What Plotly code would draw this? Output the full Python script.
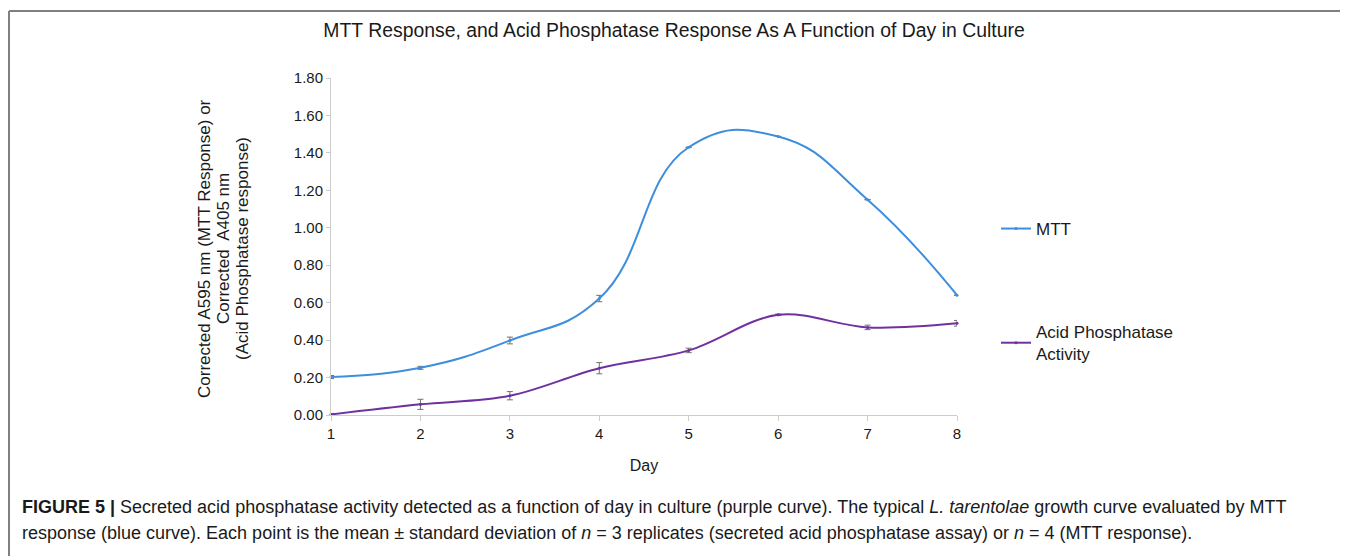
import plotly.graph_objects as go

days = [1, 2, 3, 4, 5, 6, 7, 8]
mtt = [0.203, 0.252, 0.398, 0.622, 1.430, 1.488, 1.150, 0.640]
mtt_err = [0.008, 0.008, 0.018, 0.017, 0.0, 0.0, 0.0, 0.0]
acp = [0.003, 0.057, 0.103, 0.250, 0.345, 0.535, 0.468, 0.490]
acp_err = [0.005, 0.027, 0.022, 0.030, 0.012, 0.004, 0.012, 0.015]
y_ticks = [0, 0.2, 0.4, 0.6, 0.8, 1.0, 1.2, 1.4, 1.6, 1.8]

FONT = "Liberation Sans, Arial, sans-serif"
BLUE = "#3E8EDE"
PURPLE = "#7030A0"
ERR = "#707070"
TXT = "#1a1a1a"

W, H = 1348, 556
L, T = 323, 70          # plot area left/top (figure px; page adds 8px body margin)
PR, PB = 949, 407       # plot area right/bottom
PW, PH = PR - L, PB - T


def px(fx):
    return (fx - L) / PW


def py(fy):
    return (PB - fy) / PH


fig = go.Figure()
fig.add_trace(go.Scatter(
    x=days, y=mtt, name="MTT", mode="lines+markers",
    line=dict(color=BLUE, width=2, shape="spline", smoothing=1.3),
    marker=dict(color=BLUE, size=3),
    error_y=dict(type="data", array=mtt_err, color=ERR, thickness=1, width=3),
    cliponaxis=False, legendgroup="a",
))
fig.add_trace(go.Scatter(
    x=days, y=acp, name="Acid Phosphatase<br>Activity", mode="lines+markers",
    line=dict(color=PURPLE, width=2, shape="spline", smoothing=1.0),
    marker=dict(color=PURPLE, size=3),
    error_y=dict(type="data", array=acp_err, color=ERR, thickness=1, width=3),
    cliponaxis=False, legendgroup="b",
))

fig.update_layout(
    width=W, height=H,
    margin=dict(l=L, r=W - PR, t=T, b=H - PB),
    paper_bgcolor="white", plot_bgcolor="white",
    font=dict(family=FONT, size=15, color=TXT),
    title=dict(text="MTT Response, and Acid Phosphatase Response As A Function of Day in Culture",
               x=666 / W, xanchor="center", y=1 - 22 / H, yanchor="middle",
               font=dict(family=FONT, size=19.4, color=TXT)),
    showlegend=True,
    legend=dict(x=px(988), xanchor="left", y=py(203), yanchor="top",
                font=dict(family=FONT, size=17, color=TXT),
                tracegroupgap=78, itemwidth=30, bgcolor="rgba(0,0,0,0)"),
)
fig.update_xaxes(
    range=[1, 8], tickvals=days, ticktext=[str(d) for d in days],
    showline=True, linecolor="#CCCCCC", linewidth=1,
    ticks="outside", ticklen=5, tickcolor="#CCCCCC",
    showgrid=False, zeroline=False,
    tickfont=dict(family=FONT, size=15, color=TXT),
    title=dict(text="Day", font=dict(family=FONT, size=16, color=TXT), standoff=18),
)
fig.update_yaxes(
    range=[0, 1.8], tickvals=y_ticks, ticktext=[f"{v:.2f}" for v in y_ticks],
    showline=True, linecolor="#CCCCCC", linewidth=1,
    ticks="outside", ticklen=4, tickcolor="#CCCCCC",
    showgrid=False, zeroline=False,
    tickfont=dict(family=FONT, size=15, color=TXT),
)

# y-axis title, three rotated lines
ytitle = ["Corrected A595 nm (MTT Response) or", "Corrected  A405 nm", "(Acid Phosphatase response)"]
for line_text, fx in zip(ytitle, [196, 215, 234]):
    fig.add_annotation(xref="paper", yref="paper", x=px(fx), y=py(241),
                       xanchor="center", yanchor="middle", showarrow=False,
                       textangle=-90, text=line_text,
                       font=dict(family=FONT, size=17, color=TXT))

# figure frame (top and left rules)
fig.add_shape(type="line", xref="paper", yref="paper",
              x0=px(1), x1=px(W + 10), y0=py(3), y1=py(3),
              line=dict(color="#808080", width=2))
fig.add_shape(type="line", xref="paper", yref="paper",
              x0=px(1), x1=px(1), y0=py(3), y1=py(H + 10),
              line=dict(color="#808080", width=2))

fig.add_annotation(
    xref="paper", yref="paper", x=px(12), y=py(499),
    xanchor="left", yanchor="middle", showarrow=False, align="left",
    text="<b>FIGURE 5 |</b> Secreted acid phosphatase activity detected as a function of day in culture (purple curve). "
         "The typical <i>L. tarentolae</i> growth curve evaluated by MTT",
    font=dict(family=FONT, size=18, color=TXT),
)
fig.add_annotation(
    xref="paper", yref="paper", x=px(12), y=py(525),
    xanchor="left", yanchor="middle", showarrow=False, align="left",
    text="response (blue curve). Each point is the mean ± standard deviation of <i>n</i> = 3 replicates "
         "(secreted acid phosphatase assay) or <i>n</i> = 4 (MTT response).",
    font=dict(family=FONT, size=18, color=TXT),
)

fig.write_html("out.html")
